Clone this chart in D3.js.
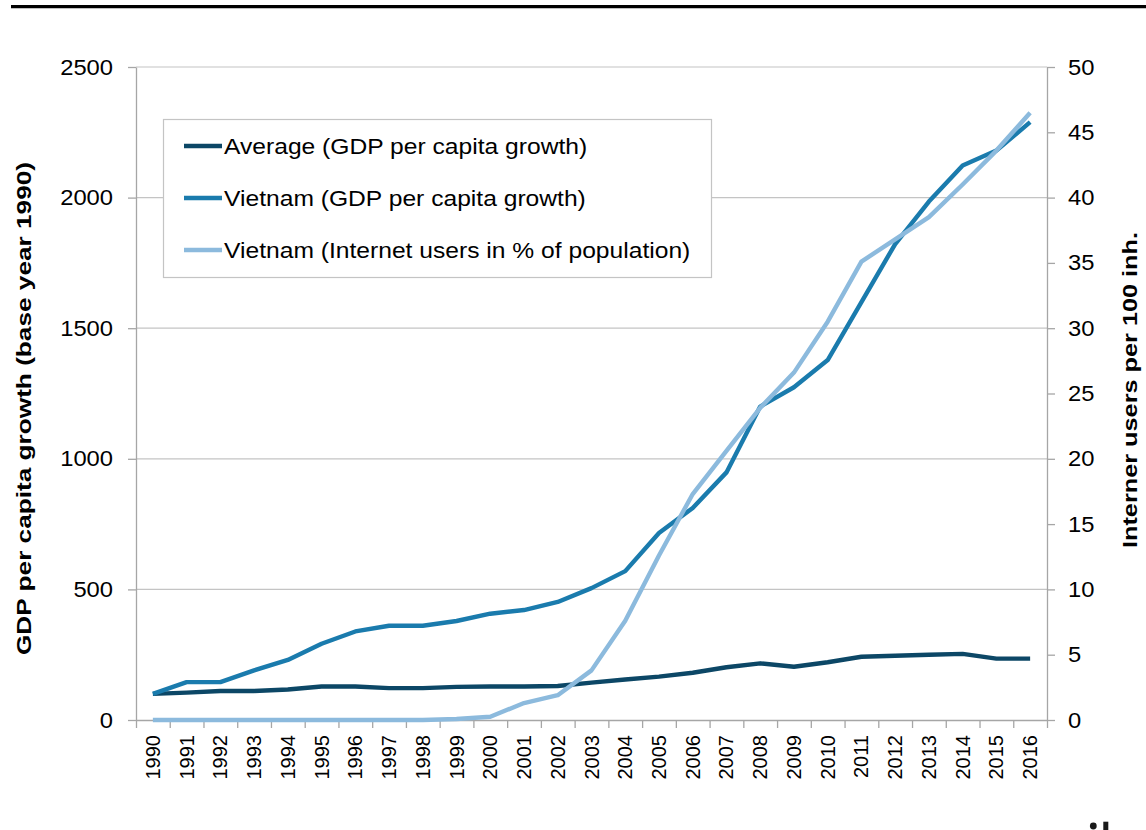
<!DOCTYPE html>
<html>
<head>
<meta charset="utf-8">
<script src="https://cdn.jsdelivr.net/npm/d3@7"></script>
<style>
  html, body { margin: 0; padding: 0; background: #ffffff; }
  svg { display: block; font-family: "Liberation Sans", Arial, sans-serif; }
</style>
</head>
<body>
<svg id="chart" width="1146" height="830"></svg>
<script>
// ---- data ----
const years = ["1990","1991","1992","1993","1994","1995","1996","1997","1998","1999","2000","2001","2002","2003","2004","2005","2006","2007","2008","2009","2010","2011","2012","2013","2014","2015","2016"];
const averageGdp = [100,105,111,111,117,128,128,122,122,127,128,128,130,143,155,166,181,202,217,204,221,242,246,250,253,235,235];
const vietnamGdp = [100,145,145,190,230,292,339,361,361,379,407,421,452,505,570,716,812,948,1200,1274,1378,1600,1822,1985,2123,2180,2289];
const vietnamInternet = [0,0,0,0,0,0,0,0,0,0.08,0.25,1.3,1.9,3.8,7.6,12.6,17.3,20.6,23.9,26.6,30.5,35.1,36.8,38.5,41.0,43.6,46.5];
const leftTicks = [0,500,1000,1500,2000,2500];
const rightTicks = [0,5,10,15,20,25,30,35,40,45,50];
const seriesNames = ["Average (GDP per capita growth)","Vietnam (GDP per capita growth)","Vietnam (Internet users in % of population)"];
const leftTitle = "GDP per capita growth (base year 1990)";
const rightTitle = "Interner users per 100 inh.";

// ---- layout ----
const L = 136, R = 1047, T = 67, B = 720;
const colors = ["#0c4766", "#1a7bad", "#8cbadd"];
const svg = d3.select("#chart");
svg.append("rect").attr("width",1146).attr("height",830).attr("fill","#fff");

// top rule
svg.append("line").attr("x1",11).attr("x2",1146).attr("y1",6.6).attr("y2",6.6)
  .attr("stroke","#000").attr("stroke-width",3.4);

const x = d3.scaleBand().domain(years).range([L,R]).padding(0);
const cx = d => x(d) + x.bandwidth()/2;
const xi = d3.scaleLinear().domain([0, years.length]).range([L,R]);
const yL = d3.scaleLinear().domain([0,2500]).range([B,T]);
const yR = d3.scaleLinear().domain([0,50]).range([B,T]);

// gridlines
svg.append("g").selectAll("line").data(leftTicks.filter(v=>v>0)).join("line")
  .attr("x1",L).attr("x2",R).attr("y1",d=>yL(d)).attr("y2",d=>yL(d))
  .attr("stroke","#c4c4c4").attr("stroke-width",1.2);

const axisColor = "#a6a6a6";
function styleAxis(g){
  g.selectAll("path.domain").attr("stroke",axisColor).attr("stroke-width",1.3);
  g.selectAll(".tick line").attr("stroke",axisColor).attr("stroke-width",1.3);
  g.selectAll("text").attr("fill","#000");
}

// left axis
const gL = svg.append("g").attr("transform",`translate(${L},0)`)
  .call(d3.axisLeft(yL).tickValues(leftTicks).tickFormat(d3.format("d")).tickSize(8).tickPadding(15).tickSizeOuter(0));
styleAxis(gL);
gL.selectAll("text").attr("font-size",22).attr("x",-23/1.08).attr("transform","scale(1.08,1)");

// right axis
const gR = svg.append("g").attr("transform",`translate(${R},0)`)
  .call(d3.axisRight(yR).tickValues(rightTicks).tickFormat(d3.format("d")).tickSize(8).tickPadding(13).tickSizeOuter(0));
styleAxis(gR);
gR.selectAll("text").attr("font-size",22).attr("x",21/1.08).attr("transform","scale(1.08,1)");

// bottom axis: boundary ticks
const gB = svg.append("g").attr("transform",`translate(0,${B})`)
  .call(d3.axisBottom(xi).tickValues(d3.range(years.length+1)).tickSize(8).tickFormat("").tickSizeOuter(0));
styleAxis(gB);
// bottom labels through band axis
const gB2 = svg.append("g").attr("transform",`translate(0,${B})`)
  .call(d3.axisBottom(x).tickSize(0).tickPadding(0));
gB2.select("path.domain").remove();
gB2.selectAll(".tick text")
  .attr("font-size",20).attr("fill","#000")
  .attr("text-anchor","end")
  .attr("x",0).attr("y",0)
  .attr("dy","0.35em")
  .attr("transform","translate(0,15) rotate(-90)");

// lines
const lineL = d3.line().x((d,i)=>cx(years[i])).y(d=>yL(d));
const lineR = d3.line().x((d,i)=>cx(years[i])).y(d=>yR(d));
const series = [
  {vals: averageGdp, gen: lineL, color: colors[0]},
  {vals: vietnamGdp, gen: lineL, color: colors[1]},
  {vals: vietnamInternet, gen: lineR, color: colors[2]}
];
svg.append("g").selectAll("path").data(series).join("path")
  .attr("d", s => s.gen(s.vals))
  .attr("fill","none").attr("stroke", s=>s.color)
  .attr("stroke-width",4.4).attr("stroke-linejoin","round").attr("stroke-linecap","butt");

// legend
const lg = svg.append("g");
lg.append("rect").attr("x",163.5).attr("y",119.5).attr("width",548).attr("height",158)
  .attr("fill","#fff").attr("stroke","#c4c4c4").attr("stroke-width",1.2);
const rowsY = [146, 198, 250];
seriesNames.forEach((name,i)=>{
  lg.append("line").attr("x1",184).attr("x2",222).attr("y1",rowsY[i]).attr("y2",rowsY[i])
    .attr("stroke",colors[i]).attr("stroke-width",4.4);
  lg.append("text").attr("transform",`translate(224,${rowsY[i]}) scale(1.12,1)`)
    .attr("dy","0.35em").attr("font-size",22).attr("fill","#000").text(name);
});

// axis titles
svg.append("text").attr("transform","translate(30.5,408.5) rotate(-90)")
  .attr("text-anchor","middle").attr("font-weight","bold").attr("font-size",21)
  .attr("textLength",493).attr("lengthAdjust","spacingAndGlyphs")
  .attr("fill","#000").text(leftTitle);
svg.append("text").attr("transform","translate(1137,390) rotate(-90)")
  .attr("text-anchor","middle").attr("font-weight","bold").attr("font-size",21)
  .attr("textLength",316).attr("lengthAdjust","spacingAndGlyphs")
  .attr("fill","#000").text(rightTitle);

// cropped logo fragment bottom-right
svg.append("circle").attr("cx",1093.3).attr("cy",826).attr("r",3.4).attr("fill","#1a1a1a");
svg.append("rect").attr("x",1103.3).attr("y",821.7).attr("width",5).attr("height",9).attr("fill","#1a1a1a");
</script>
</body>
</html>
